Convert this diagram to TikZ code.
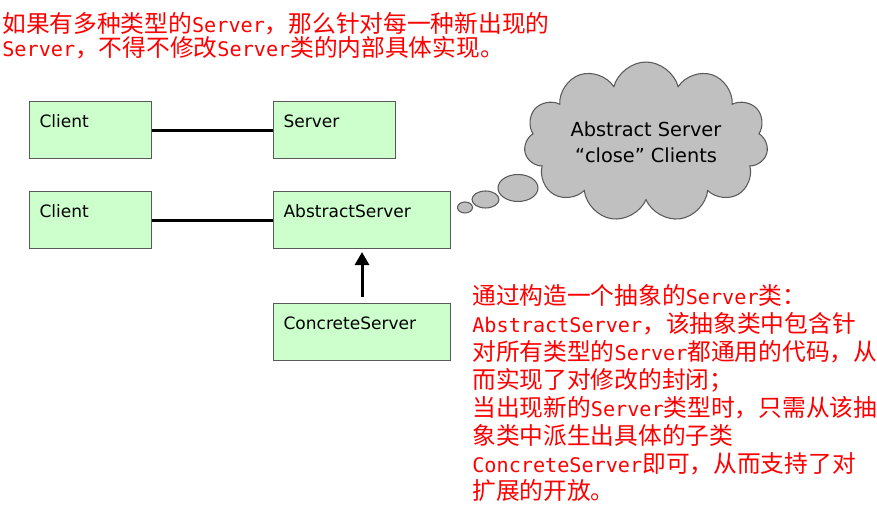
\documentclass[tikz,border=0pt]{standalone}
\usepackage{fontspec}
\usepackage{xcolor}
\usepackage{tikz}
\setmainfont{DejaVu Sans}
\setmonofont[Scale=0.85]{DejaVu Sans Mono}
\newfontfamily\cjk{Noto Sans CJK SC}
\usetikzlibrary{shapes.geometric, shapes.symbols, arrows.meta}

\definecolor{boxgreen}{HTML}{CCFFCC}
\definecolor{cloudgray}{HTML}{C0C0C0}
\definecolor{notered}{HTML}{FF0000}
\newcommand{\lat}[1]{{\ttfamily #1}}

\tikzset{
  classbox/.style={rectangle,draw=black!65,fill=boxgreen,line width=0.6pt,align=left,anchor=north west,
    inner xsep=0.2cm,inner ysep=0.2cm,text height=0.32cm,text depth=0.42cm,font=\fontsize{9.7pt}{11pt}\selectfont},
  assoc/.style={line width=1.7pt},
  thought/.style={ellipse,draw=black!65,fill=cloudgray,line width=0.6pt,inner sep=0pt},
  note/.style={anchor=base west,align=left,text=notered,inner sep=0pt},
}

\begin{document}
\begin{tikzpicture}[x=0.02cm,y=-0.02cm]
    \useasboundingbox (0,0) rectangle (877,509);

    % Remark on top (anchored at the baseline of its last line)
    \node[note,font=\cjk\fontsize{13.5pt}{14pt}\selectfont] (remark) at (2,57) {如果有多种类型的\lat{Server}，那么针对每一种新出现的\\\lat{Server}，不得不修改\lat{Server}类的内部具体实现。};

    % Client -- Server
    \node[classbox,text width=2.04cm] (client1) at (29,101) {Client};
    \node[classbox,text width=2.04cm] (server) at (273,101) {Server};
    \draw[assoc] (client1) -- (server);

    % Client -- AbstractServer
    \node[classbox,text width=2.04cm] (client2) at (29,191) {Client};
    \node[classbox,text width=3.14cm] (abstract) at (273,191) {AbstractServer};
    \draw[assoc] (client2) -- (abstract);

    % ConcreteServer
    \node[classbox,text width=3.14cm] (concrete) at (273,303) {ConcreteServer};
    \draw[-{Triangle[length=0.26cm,width=0.28cm]},line width=1.7pt,shorten <=0.12cm,shorten >=0.06cm] (concrete) -- (abstract);

    % Cloud
    \node[cloud,cloud puffs=11,cloud ignores aspect,draw=black!65,fill=cloudgray,line width=0.6pt,minimum width=4.88cm,minimum height=3.2cm,
      align=center,font=\fontsize{11pt}{14.8pt}\selectfont] (cloud) at (646,142) {Abstract Server\\“close” Clients};
    \node[thought,minimum width=0.3cm,minimum height=0.22cm] (puff1) at (465,207.5) {};
    \node[thought,minimum width=0.54cm,minimum height=0.34cm] (puff2) at (485.5,199.5) {};
    \node[thought,minimum width=0.8cm,minimum height=0.54cm] (puff3) at (518,188) {};

    % Explanation (anchored at the baseline of its last line)
    \node[note,font=\cjk\fontsize{13.5pt}{15.9pt}\selectfont] (idea) at (472,500) {通过构造一个抽象的\lat{Server}类：\\\lat{AbstractServer}，该抽象类中包含针\\对所有类型的\lat{Server}都通用的代码，从\\而实现了对修改的封闭；\\当出现新的\lat{Server}类型时，只需从该抽\\象类中派生出具体的子类\\\lat{ConcreteServer}即可，从而支持了对\\扩展的开放。};
\end{tikzpicture}
\end{document}
